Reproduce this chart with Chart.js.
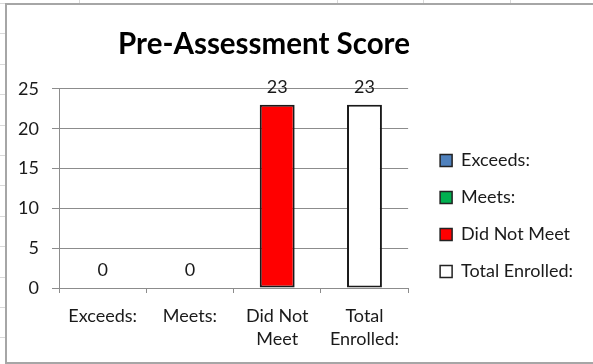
<!DOCTYPE html>
<html>
<head>
<meta charset="utf-8">
<title>Pre-Assessment Score</title>
<script src="https://cdn.jsdelivr.net/npm/chart.js@4.4.1/dist/chart.umd.min.js"></script>
<style>
  html, body { margin: 0; padding: 0; }
  body {
    width: 593px; height: 364px; overflow: hidden; position: relative; background: #fff;
    /* worksheet cell lines behind the chart object */
    background-image:
      repeating-linear-gradient(to bottom, #d9d9d9 0 1px, transparent 1px 30.4px),
      linear-gradient(to right, transparent 79px, #d9d9d9 79px 80px, transparent 80px 337px, #d9d9d9 337px 338px,
        transparent 338px 423px, #d9d9d9 423px 424px, transparent 424px 510px, #d9d9d9 510px 511px, transparent 511px);
    background-position: 0 3px, 0 0;
  }
  #frame {
    position: absolute; left: 5px; top: 3px; width: 640px; height: 357px;
    border: 2px solid #a6a6a6; background: #fff;
  }
  /* canvas starts left of the frame so the centred title sits where the sheet has it */
  #myChart { position: absolute; left: -62px; top: 0; }
</style>
</head>
<body>
<div id="frame">
  <canvas id="myChart" width="638" height="359"></canvas>
</div>
<script>
//axis categories (two-line ones are split like the worksheet shows them)
let categories = ['Exceeds:', 'Meets:', ['Did Not', 'Meet'], ['Total', 'Enrolled:']]
//legend names
let legendNames = ['Exceeds:', 'Meets:', 'Did Not Meet', 'Total Enrolled:']
//number of students per group
let scores = [0, 0, 23, 23]
let barColors = ['#4f81bd', '#00b050', '#ff0000', '#ffffff']
//value axis
let yTicks = [0, 5, 10, 15, 20, 25]

let gridColor = '#8c8c8c'
let textColor = '#1a1a1a'
let fontFamily = 'Lato, "Noto Sans", sans-serif'

Chart.defaults.font.family = fontFamily
Chart.defaults.font.size = 18
Chart.defaults.color = textColor

//numbers on top of each bar
let valueLabels = {
	id: 'valueLabels',
	afterDatasetsDraw(chart) {
		let ctx = chart.ctx
		let meta = chart.getDatasetMeta(0)
		ctx.save()
		ctx.font = '18px ' + fontFamily
		ctx.fillStyle = textColor
		ctx.textAlign = 'center'
		ctx.textBaseline = 'middle'
		meta.data.forEach((bar, i) => {
			ctx.fillText(String(scores[i]), bar.x, bar.y - 18)
		})
		ctx.restore()
	}
}

let data = {
	labels: categories,
	datasets: [
		{
			label: 'Pre-Assessment Score',
			data: scores,
			backgroundColor: barColors,
			borderColor: '#1a1a1a',
			borderWidth: (c) => (c.raw > 0 ? 2 : 0),
			borderSkipped: false,
			categoryPercentage: 1,
			barPercentage: 0.4
		}
	]
}

let config = {
	type: 'bar',
	data: data,
	options: {
		responsive: false,
		animation: false,
		layout: {
			padding: { left: 0, right: 0, top: 0, bottom: 1 }
		},
		plugins: {
			title: {
				display: true,
				text: 'Pre-Assessment Score',
				color: '#000',
				font: { size: 29.5, weight: 'bold' },
				padding: { top: 22, bottom: 26.5 }
			},
			legend: {
				position: 'right',
				align: 'start',
				maxWidth: 300, //don't let the layout squeeze the labels
				//blank title only pushes the items down
				title: { display: true, text: '', padding: { top: 106, bottom: 0 } },
				labels: {
					boxWidth: 12,
					boxHeight: 12,
					padding: 19,
					color: textColor,
					generateLabels: () =>
						legendNames.map((name, i) => ({
							text: name,
							fillStyle: barColors[i],
							strokeStyle: '#222',
							lineWidth: 1.5,
							index: i
						}))
				},
				onClick: () => {}
			},
			tooltip: { enabled: false }
		},
		scales: {
			x: {
				grid: {
					offset: true,
					drawOnChartArea: false,
					drawTicks: true,
					tickLength: 5,
					color: gridColor
				},
				border: { color: gridColor, width: 1 },
				ticks: {
					padding: 12,
					maxRotation: 0,
					autoSkip: false,
					font: { size: 18, lineHeight: '23px' }
				}
			},
			y: {
				min: yTicks[0],
				max: yTicks[yTicks.length - 1],
				afterBuildTicks: (scale) => {
					scale.ticks = yTicks.map((v) => ({ value: v }))
				},
				grid: { color: gridColor, tickLength: 7 },
				border: { color: gridColor, width: 1 },
				ticks: { padding: 13 },
				afterFit: (scale) => {
					scale.width = 114
				}
			},
			//empty strip between the plot and the legend
			gap: {
				type: 'linear',
				axis: 'y',
				position: 'right',
				grid: { display: false },
				border: { display: false },
				ticks: { display: false },
				afterFit: (scale) => {
					scale.width = 13
				}
			}
		}
	},
	plugins: [valueLabels]
}

let chart = new Chart(document.getElementById('myChart').getContext('2d'), config)
</script>
</body>
</html>
